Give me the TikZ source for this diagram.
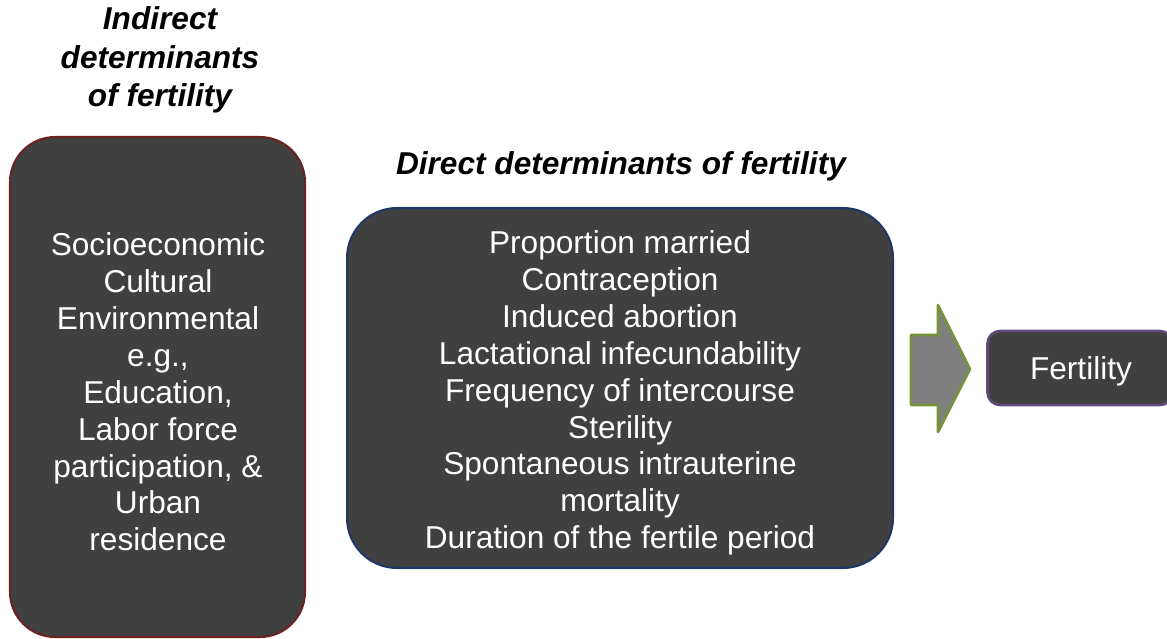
\documentclass[tikz,border=0pt]{standalone}
\usepackage{fontspec}
\setmainfont{Liberation Sans}
\definecolor{boxfill}{HTML}{404040}
\definecolor{indirectline}{HTML}{6B2222}
\definecolor{directline}{HTML}{1F3864}
\definecolor{fertline}{HTML}{5F497A}
\definecolor{arrowline}{HTML}{77933C}
\definecolor{arrowfill}{HTML}{7F7F7F}
\begin{document}
\begin{tikzpicture}[x=0.02cm,y=-0.02cm,line join=round,
    font=\fontsize{18}{21}\selectfont,
    darkbox/.style={draw,line width=1.2pt,fill=boxfill,inner sep=0pt},
    boxtext/.style={text=white,align=center,inner sep=0pt},
    heading/.style={font=\fontsize{18}{22}\selectfont\bfseries\itshape,align=center}]

    \useasboundingbox (0,0) rectangle (1167,639);

    % boxes
    \node[darkbox,draw=indirectline,rounded corners=0.9cm,minimum width=5.9cm,minimum height=10cm] (indirect) at (157.5,387) {};
    \node[darkbox,draw=directline,rounded corners=1cm,minimum width=10.92cm,minimum height=7.2cm] (direct) at (620,388) {};
    \node[darkbox,draw=fertline,line width=1.5pt,rounded corners=0.25cm,minimum width=3.7cm,minimum height=1.48cm] (fert) at (1080,368) {};

    % texts
    \node[boxtext] (indirecttext) at (158,392)
        {Socioeconomic\\Cultural\\Environmental\\e.g.,\\Education,\\Labor force\\participation, \&\\Urban\\residence};
    \node[boxtext] (directtext) at (620,393)
        {Proportion married\\Contraception\\Induced abortion\\Lactational infecundability\\Frequency of intercourse\\Sterility\\Spontaneous intrauterine\\mortality\\Duration of the fertile period};
    \node[boxtext] (ferttext) at (1081,371) {Fertility};

    % headings
    \node[heading] (indirecthead) at (160,60) {Indirect\\determinants\\of fertility};
    \node[heading] (directhead) at (621,166) {Direct determinants of fertility};

    % block arrow
    \draw[line width=1.5pt,draw=arrowline,fill=arrowfill]
        (911,335) -- (938,335) -- (938,305) -- (970,369) -- (938,432) -- (938,405) -- (911,405) -- cycle;
\end{tikzpicture}
\end{document}
